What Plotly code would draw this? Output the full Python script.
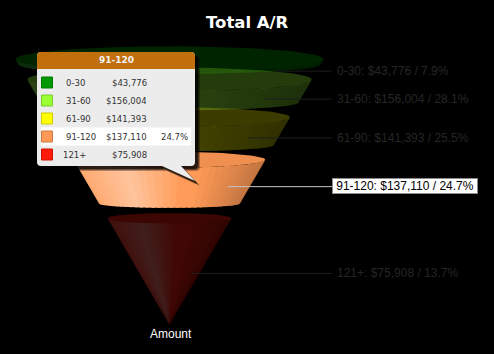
import numpy as np
import plotly.graph_objects as go

# ---------- data ----------
categories = ["0-30", "31-60", "61-90", "91-120", "121+"]
amounts = [43776, 156004, 141393, 137110, 75908]
percents = ["7.9%", "28.1%", "25.5%", "24.7%", "13.7%"]
colors = ["#009900", "#99ff33", "#ffff00", "#ff9955", "#ff1a0a"]
selected = "91-120"
title_text = "Total A/R"
axis_name = "Amount"

# ---------- funnel scale: a cone whose slice volumes follow the values ----------
W, H = 494, 354
CX, APEX_Y = 169.5, 325.0
R_SCALE, GAP, SLOPE = 120.0, 8.5, 1.726
RY_TOP, RY_BOT = 0.084, 0.06
STRIPS = 36
DIM = 0.25


def hex_rgb(c):
    return np.array([int(c[i:i + 2], 16) for i in (1, 3, 5)], float)


def mix(c, other, k):
    return c * (1 - k) + np.array(other, float) * k


def css(c):
    return "rgb(%d,%d,%d)" % tuple(np.clip(np.round(c), 0, 255))


def shade(base, t):
    """t from -1 (left) to 1 (right) across the front of the cone."""
    white = np.interp(t, [-1, -0.45, 0.15, 1], [0.16, 0.42, 0.02, 0])
    black = np.interp(t, [-1, 0.3, 1], [0, 0, 0.24])
    return mix(mix(base, (255, 255, 255), white), (0, 0, 0), black)


vals = np.array(amounts, float)
# share of the total from the apex up to the lower / upper edge of each band
cum_up = vals[::-1].cumsum()[::-1] / vals.sum()
cum_low = np.append(cum_up[1:], 0.0)
n = len(vals)
levels = n - 1 - np.arange(n)  # number of gaps below each band
r_top = R_SCALE * np.cbrt(cum_up) + GAP * levels
r_bot = R_SCALE * np.cbrt(cum_low) + GAP * levels
y_top = APEX_Y - r_top * SLOPE
y_bot = APEX_Y - r_bot * SLOPE

fig = go.Figure()


def poly(xs, ys, color, opacity=1.0):
    fig.add_trace(go.Scatter(x=xs, y=ys, mode="lines", fill="toself", fillcolor=color,
                             line=dict(width=0), opacity=opacity,
                             hoverinfo="skip", showlegend=False))


line_pos = []
for i, cat in enumerate(categories):
    base = hex_rgb(colors[i])
    op = 1.0 if cat == selected else DIM
    # front surface as vertical facets, flattened against the black page;
    # each facet runs under the next one so no seam shows between them
    edges = np.linspace(np.pi, 0, STRIPS + 1)
    step = edges[0] - edges[1]
    for a, b in zip(edges[:-1], edges[1:]):
        sub = np.linspace(a, max(b - step * 0.6, 0.0), 5)
        xt = CX + r_top[i] * np.cos(sub)
        yt = y_top[i] + RY_TOP * r_top[i] * np.sin(sub)
        xb = CX + r_bot[i] * np.cos(sub)
        yb = y_bot[i] + RY_BOT * r_bot[i] * np.sin(sub)
        t = np.cos((a + b) / 2)
        poly(np.r_[xt, xb[::-1]], np.r_[yt, yb[::-1]], css(shade(base, t) * op))
    # top ellipse (translucent, so it lightens the band above where they overlap)
    th = np.linspace(0, 2 * np.pi, 90)
    poly(CX + r_top[i] * np.cos(th), y_top[i] + RY_TOP * r_top[i] * np.sin(th),
         css(mix(base, (0, 0, 0), 0.06)), op)
    # leader line
    mid_r = (r_top[i] + r_bot[i]) / 2
    ly = (y_top[i] + y_bot[i]) / 2 + 0.06 * mid_r
    lx = CX + 0.7 * mid_r
    line_pos.append(ly)
    fig.add_trace(go.Scatter(x=[lx, 332], y=[ly, ly], mode="lines",
                             line=dict(width=1, color="#c4c4c4" if cat == selected else "#1e1e1e"),
                             hoverinfo="skip", showlegend=False))

annotations = []
shapes = []


def text(x, y, s, size, color, family, anchor="left", bold=False, **kw):
    nudge = {"left": -2, "right": 2, "center": 0}[anchor]
    annotations.append(dict(x=x + nudge, y=y, xref="x", yref="y", text=f"<b>{s}</b>" if bold else s,
                            showarrow=False, xanchor=anchor, yanchor="middle",
                            font=dict(size=size, color=color, family=family), **kw))


text(247, 22, title_text, 16.5, "#ffffff", "DejaVu Sans", "center", True)
text(170.5, 334, axis_name, 12, "#ffffff", "Liberation Sans", "center")

for i, cat in enumerate(categories):
    label = f"{cat}: ${amounts[i]:,} / {percents[i]}"
    if cat == selected:
        text(334, line_pos[i] - 0.5, label, 12, "#000000", "Liberation Sans", "left", False,
             bgcolor="#ffffff", bordercolor="#8c8c8c", borderwidth=1, borderpad=0,
             width=144, height=14, align="center")
    else:
        text(337, line_pos[i], label, 12, "#262626", "Liberation Sans")


# ---------- tooltip ----------
def bubble(dx=0.0, dy=0.0):
    L, T, R, B, C = 37 + dx, 52 + dy, 195 + dx, 166 + dy, 4
    return (f"M{L + C},{T} L{R - C},{T} Q{R},{T} {R},{T + C} L{R},{B - C} Q{R},{B} {R - C},{B} "
            f"L{181 + dx},{B} L{195 + dx},{181 + dy} L{162 + dx},{B} L{L + C},{B} "
            f"Q{L},{B} {L},{B - C} L{L},{T + C} Q{L},{T} {L + C},{T} Z")


for off, alpha in ((5, 0.3), (4, 0.4), (3, 0.6)):
    shapes.append(dict(type="path", path=bubble(off, off), fillcolor="#000000", opacity=alpha,
                       line=dict(width=0), xref="x", yref="y", layer="above"))
shapes.append(dict(type="path", path=bubble(), fillcolor="#ececec", line=dict(width=0),
                   xref="x", yref="y", layer="above"))
shapes.append(dict(type="path", path="M41,52 L191,52 Q195,52 195,56 L195,69 L37,69 L37,56 Q37,52 41,52 Z",
                   fillcolor="#c06f0c", line=dict(width=0), xref="x", yref="y", layer="above"))
text(116, 59.5, selected, 9, "#f4f4f4", "DejaVu Sans", "center", True)

ROW0, ROWH = 82.5, 18
for i, cat in enumerate(categories):
    y = ROW0 + ROWH * i
    if cat == selected:
        shapes.append(dict(type="rect", x0=41, x1=191, y0=y - 9, y1=y + 9, fillcolor="#ffffff",
                           line=dict(width=0), xref="x", yref="y", layer="above"))
        text(188, y, percents[i], 8.5, "#333333", "DejaVu Sans", "right")
    base = hex_rgb(colors[i])
    shapes.append(dict(type="rect", x0=41.5, x1=52.5, y0=y - 5.5, y1=y + 5.5, fillcolor=colors[i],
                       line=dict(width=1, color=css(mix(base, (0, 0, 0), 0.2))),
                       xref="x", yref="y", layer="above"))
    text(63 if cat == "121+" else 66, y, cat, 8.5, "#333333", "DejaVu Sans")
    text(147, y, f"${amounts[i]:,}", 8.5, "#333333", "DejaVu Sans", "right")

fig.update_layout(
    width=W, height=H, margin=dict(l=0, r=0, t=0, b=0),
    paper_bgcolor="#000000", plot_bgcolor="#000000",
    xaxis=dict(range=[0, W], visible=False, fixedrange=True),
    yaxis=dict(range=[H, 0], visible=False, fixedrange=True),
    shapes=shapes, annotations=annotations, showlegend=False, hovermode=False,
)
fig.write_html("out.html", config=dict(displayModeBar=False),
               post_script="document.body.style.margin='0';document.body.style.background='#000';")
